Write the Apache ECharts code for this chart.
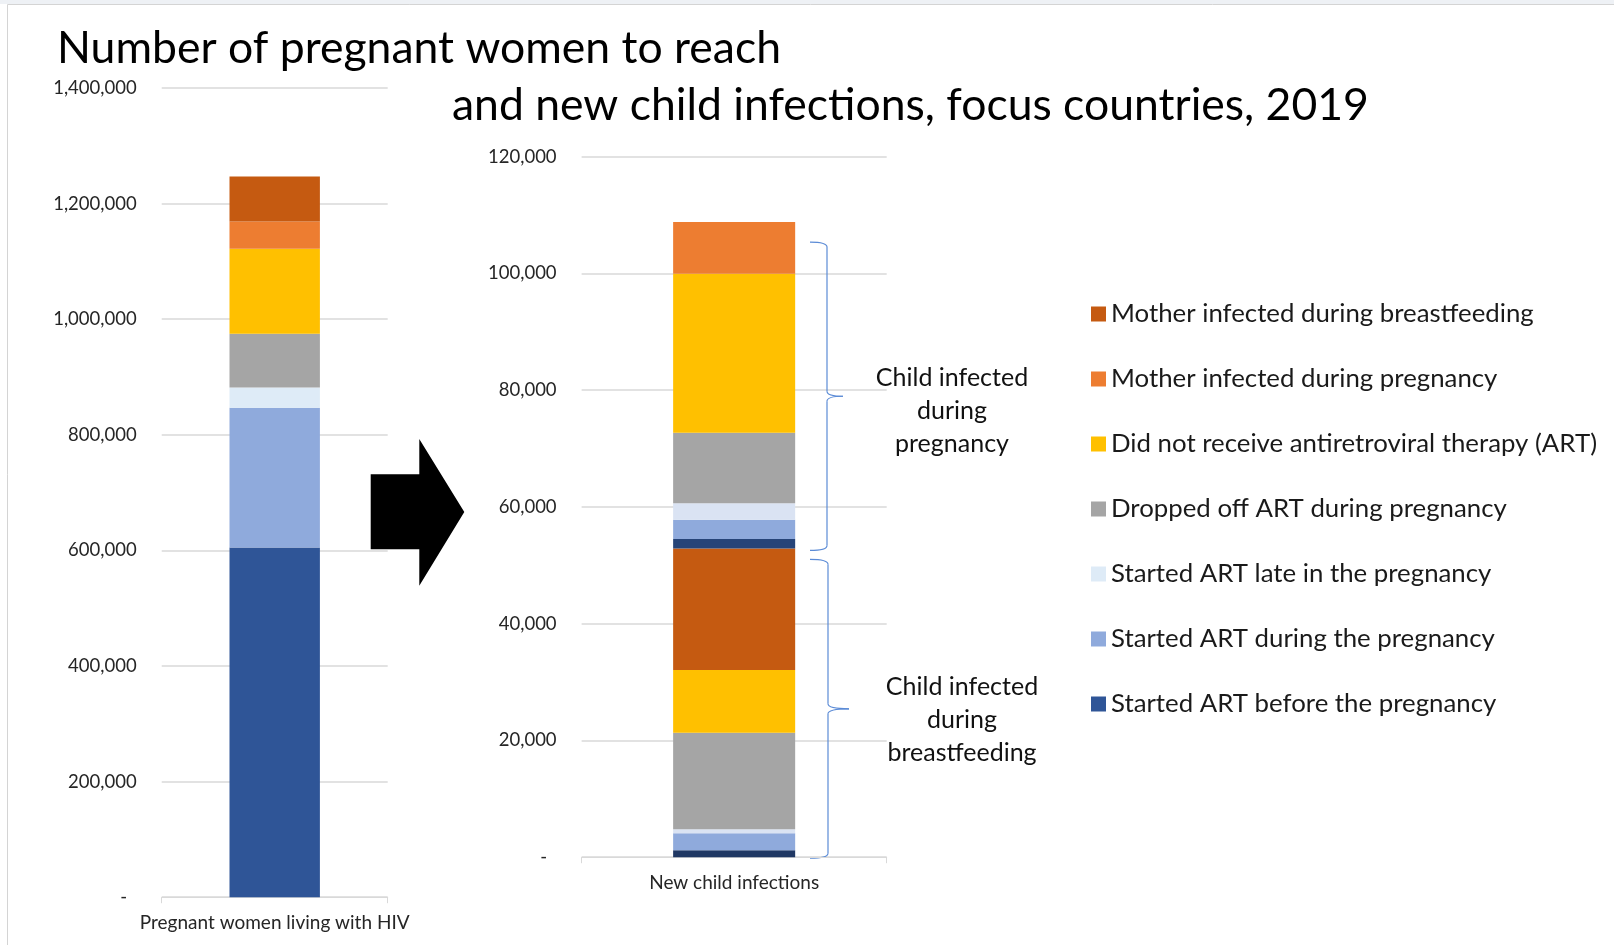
<!DOCTYPE html>
<html>
<head>
<meta charset="utf-8">
<script src="https://cdn.jsdelivr.net/npm/echarts@6/dist/echarts.min.js"></script>
<style>
  html, body { margin: 0; padding: 0; background: #fff; }
  #chart { width: 1614px; height: 945px; }
</style>
</head>
<body>
<div id="chart"></div>
<script>
// stacking order, bottom to top
const names = [
  'Started ART before the pregnancy',
  'Started ART during the pregnancy',
  'Started ART late in the pregnancy',
  'Dropped off ART during pregnancy',
  'Did not receive antiretroviral therapy (ART)',
  'Mother infected during pregnancy',
  'Mother infected during breastfeeding'
];
const colors = ['#2F5597', '#8FAADC', '#DEEBF7', '#A5A5A5', '#FFC000', '#ED7D31', '#C55A11'];

const womenCategory = ['Pregnant women living with HIV'];
const childCategory = ['New child infections'];

// pregnant women living with HIV, per series above
const womenValues = [605000, 242000, 35000, 93000, 147000, 47000, 78000];

// new child infections: breastfeeding block (bottom) then pregnancy block (top)
const bfNames = [names[0], names[1], names[2], names[3], names[4], names[6]];
const bfValues = [1200, 2900, 700, 16500, 10750, 20850];
const bfColors = ['#203864', '#8FAADC', '#DAE3F3', '#A5A5A5', '#FFC000', '#C55A11'];

const pregNames = [names[0], names[1], names[2], names[3], names[4], names[5]];
const pregValues = [1600, 3300, 2850, 12050, 27250, 8850];
const pregColors = ['#264478', '#8FAADC', '#DAE3F3', '#A5A5A5', '#FFC000', '#ED7D31'];

const womenAxis = { max: 1400000, interval: 200000 };
const childAxis = { max: 120000, interval: 20000 };

const legendOrder = names.slice().reverse();

const FONT = 'Lato';
const axisColor = '#D9D9D9';

function fmt(v) {
  if (v === 0) return '-  ';
  return v.toLocaleString('en-US');
}

function xAxisOpt(idx, data) {
  return {
    type: 'category',
    gridIndex: idx,
    data: data,
    axisLine: { lineStyle: { color: axisColor, width: 1 } },
    axisTick: { show: true, length: 6, lineStyle: { color: axisColor } },
    axisLabel: { color: '#262626', fontFamily: FONT, fontSize: 19, margin: 16 }
  };
}

function yAxisOpt(idx, cfg) {
  return {
    type: 'value',
    gridIndex: idx,
    min: 0,
    max: cfg.max,
    interval: cfg.interval,
    axisLine: { show: false },
    axisTick: { show: false },
    splitLine: { lineStyle: { color: axisColor, width: 1.5 } },
    axisLabel: { color: '#262626', fontFamily: FONT, fontSize: 18.5, margin: 25, formatter: fmt }
  };
}

const series = [];
womenValues.forEach((v, i) => {
  series.push({
    name: names[i], type: 'bar', stack: 'women',
    xAxisIndex: 0, yAxisIndex: 0, barWidth: '40%',
    itemStyle: { color: colors[i] }, data: [v]
  });
});
bfValues.forEach((v, i) => {
  series.push({
    name: bfNames[i], type: 'bar', stack: 'child',
    xAxisIndex: 1, yAxisIndex: 1, barWidth: '40%',
    itemStyle: { color: bfColors[i] }, data: [v]
  });
});
pregValues.forEach((v, i) => {
  series.push({
    name: pregNames[i], type: 'bar', stack: 'child',
    xAxisIndex: 1, yAxisIndex: 1, barWidth: '40%',
    itemStyle: { color: pregColors[i] }, data: [v]
  });
});

const chart = echarts.init(document.getElementById('chart'));
chart.setOption({
  animation: false,
  backgroundColor: '#fff',
  title: [
    { text: 'Number of pregnant women to reach', left: 57, top: 22, padding: 0,
      textStyle: { fontFamily: FONT, fontSize: 44.5, fontWeight: 'normal', color: '#000', lineHeight: 54 } },
    { text: 'and new child infections, focus countries, 2019', left: 452, top: 79, padding: 0,
      textStyle: { fontFamily: FONT, fontSize: 44.5, fontWeight: 'normal', color: '#000', lineHeight: 54 } }
  ],
  legend: {
    orient: 'vertical',
    left: 1091,
    top: 299,
    padding: 0,
    itemWidth: 15,
    itemHeight: 15,
    itemGap: 35,
    icon: 'rect',
    data: legendOrder,
    textStyle: { fontFamily: FONT, fontSize: 25.8, color: '#1a1a1a', lineHeight: 30 }
  },
  grid: [
    { left: 161.7, top: 88, width: 226, height: 809.2 },
    { left: 581.6, top: 156.7, width: 305.1, height: 700.5 }
  ],
  xAxis: [xAxisOpt(0, womenCategory), xAxisOpt(1, childCategory)],
  yAxis: [yAxisOpt(0, womenAxis), yAxisOpt(1, childAxis)],
  series: series
});

// annotations: arrow, braces and their captions, placed from the right axis
const bfTotal = bfValues.reduce((a, b) => a + b, 0);
const total = bfTotal + pregValues.reduce((a, b) => a + b, 0);
const py = v => chart.convertToPixel({ yAxisIndex: 1 }, v);

const braceStyle = { fill: 'none', stroke: '#5B8BD6', lineWidth: 1.2 };

// right-facing curly brace from line pieces and quadratic curves
function brace(x0, x1, x2, yTop, yBot) {
  const ym = (yTop + yBot) / 2, r = 5;
  const curve = (ax, ay, cx, cy, bx, by) => ({
    type: 'bezierCurve', silent: true, style: braceStyle,
    shape: { x1: ax, y1: ay, cpx1: cx, cpy1: cy, x2: bx, y2: by }
  });
  const line = (ax, ay, bx, by) => ({
    type: 'line', silent: true, style: braceStyle,
    shape: { x1: ax, y1: ay, x2: bx, y2: by }
  });
  return [
    curve(x0, yTop, x1, yTop, x1, yTop + r),
    line(x1, yTop + r, x1, ym - r),
    curve(x1, ym - r, x1, ym, x2, ym),
    curve(x2, ym, x1, ym, x1, ym + r),
    line(x1, ym + r, x1, yBot - r),
    curve(x1, yBot - r, x1, yBot, x0, yBot)
  ];
}

const upTop = py(total) + 20, upBot = py(bfTotal) + 2;
const loTop = py(bfTotal) + 11, loBot = py(0) + 1;
const noteStyle = { fontFamily: FONT, fontSize: 25, fill: '#111', align: 'center', verticalAlign: 'middle', lineHeight: 33 };

const graphics = [
  { type: 'rect', shape: { x: 0, y: 0, width: 1614, height: 4 }, style: { fill: '#EEF1F5' }, silent: true },
  { type: 'line', shape: { x1: 7.5, y1: 4.5, x2: 1614, y2: 4.5 }, style: { stroke: '#D4D4D4', lineWidth: 1 }, silent: true },
  { type: 'line', shape: { x1: 7.5, y1: 4.5, x2: 7.5, y2: 945 }, style: { stroke: '#D4D4D4', lineWidth: 1 }, silent: true },
  { type: 'polygon',
    shape: { points: [[370.7, 474.3], [419.3, 474.3], [419.3, 439], [464.3, 512], [419.3, 585.7], [419.3, 549.3], [370.7, 549.3]] },
    style: { fill: '#000' }, silent: true },
  { type: 'text', x: 952, y: (upTop + upBot) / 2 + 14.5,
    style: Object.assign({ text: 'Child infected\nduring\npregnancy' }, noteStyle), silent: true },
  { type: 'text', x: 962, y: (loTop + loBot) / 2 + 11,
    style: Object.assign({ text: 'Child infected\nduring\nbreastfeeding' }, noteStyle), silent: true }
].concat(brace(810, 827, 843, upTop, upBot), brace(810, 828, 849, loTop, loBot));

chart.setOption({ graphic: graphics });
</script>
</body>
</html>
